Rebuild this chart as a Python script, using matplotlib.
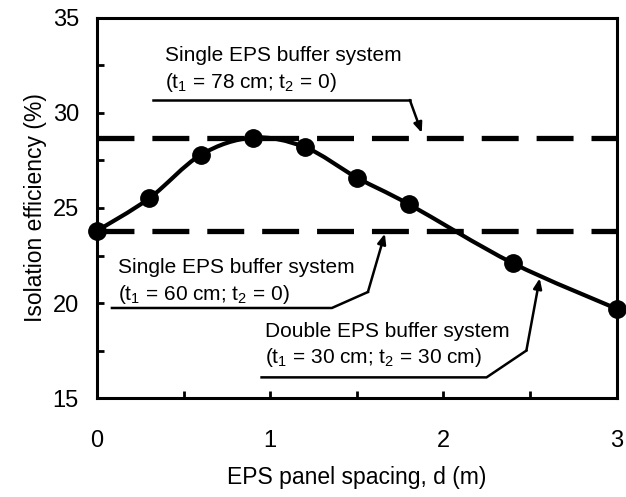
import numpy as np
import matplotlib
matplotlib.use("Agg")
import matplotlib.pyplot as plt
from matplotlib.path import Path
from matplotlib.patches import PathPatch
from matplotlib.ticker import MultipleLocator

plt.rcParams["font.family"] = ["Liberation Sans", "DejaVu Sans"]
plt.rcParams["mathtext.fontset"] = "custom"
plt.rcParams["mathtext.rm"] = "Liberation Sans"

# data
spacing = [0, 0.3, 0.6, 0.9, 1.2, 1.5, 1.8, 2.4, 3.0]
efficiency = [23.8, 25.5, 27.8, 28.7, 28.2, 26.6, 25.2, 22.1, 19.7]
single_78cm = 28.7
single_60cm = 23.8


def smooth_path(xs, ys):
    # Excel-style smoothed line: cubic bezier with catmull-rom control points
    pts = np.column_stack([xs, ys]).astype(float)
    n = len(pts)
    verts = [pts[0]]
    codes = [Path.MOVETO]
    for i in range(n - 1):
        p0 = pts[max(i - 1, 0)]
        p1 = pts[i]
        p2 = pts[i + 1]
        p3 = pts[min(i + 2, n - 1)]
        verts += [p1 + (p2 - p0) / 6, p2 - (p3 - p1) / 6, p2]
        codes += [Path.CURVE4] * 3
    return Path(verts, codes)


fig = plt.figure(figsize=(6.26, 4.97), dpi=100)
ax = fig.add_axes([0.155, 0.199, 0.83, 0.765])

ax.axhline(single_78cm, color="black", lw=3.8, dashes=(7, 3.4))
ax.axhline(single_60cm, color="black", lw=3.8, dashes=(7, 3.4))

ax.add_patch(PathPatch(smooth_path(spacing, efficiency), fill=False,
                       color="black", lw=3, zorder=3))
ax.plot(spacing, efficiency, "o", color="black", ms=12.5, zorder=4, clip_on=False)

ax.set_xlim(0, 3)
ax.set_ylim(15, 35)
ax.xaxis.set_major_locator(MultipleLocator(1))
ax.xaxis.set_minor_locator(MultipleLocator(0.5))
ax.yaxis.set_major_locator(MultipleLocator(5))
ax.yaxis.set_minor_locator(MultipleLocator(2.5))
ax.tick_params(which="both", direction="in", length=5, width=2, labelsize=17)
ax.tick_params(axis="x", which="major", pad=23)
ax.tick_params(axis="y", which="major", pad=13)
for s in ax.spines.values():
    s.set_linewidth(2.2)

ax.set_xlabel("EPS panel spacing, d (m)", fontsize=16.5, labelpad=10)
ax.set_ylabel("Isolation efficiency (%)", fontsize=16.5, labelpad=4)

# annotations with leader lines
fs = 15
arrow = dict(arrowstyle="-|>,head_length=0.6,head_width=0.25",
             color="black", lw=1.8, shrinkA=0, shrinkB=0)

ax.text(0.39, 33.0, "Single EPS buffer system", fontsize=fs, va="center")
ax.text(0.39, 31.62, r"(t$_\mathregular{1}$ = 78 cm; t$_\mathregular{2}$ = 0)", fontsize=fs, va="center")
ax.plot([0.323, 1.806], [30.68, 30.68], color="black", lw=1.8)
ax.annotate("", xy=(1.875, 28.95), xytext=(1.806, 30.68), arrowprops=arrow)

ax.text(0.12, 21.85, "Single EPS buffer system", fontsize=fs, va="center")
ax.text(0.12, 20.45, r"(t$_\mathregular{1}$ = 60 cm; t$_\mathregular{2}$ = 0)", fontsize=fs, va="center")
ax.plot([0.086, 1.356, 1.564], [19.74, 19.74, 20.58], color="black", lw=1.8)
ax.annotate("", xy=(1.662, 23.65), xytext=(1.564, 20.58), arrowprops=arrow)

ax.text(0.97, 18.52, "Double EPS buffer system", fontsize=fs, va="center")
ax.text(0.97, 17.12, r"(t$_\mathregular{1}$ = 30 cm; t$_\mathregular{2}$ = 30 cm)", fontsize=fs, va="center")
ax.plot([0.95, 2.249, 2.479], [16.09, 16.09, 17.5], color="black", lw=1.8)
ax.annotate("", xy=(2.556, 21.3), xytext=(2.479, 17.5), arrowprops=arrow)

fig.savefig("out.png", dpi=100)
